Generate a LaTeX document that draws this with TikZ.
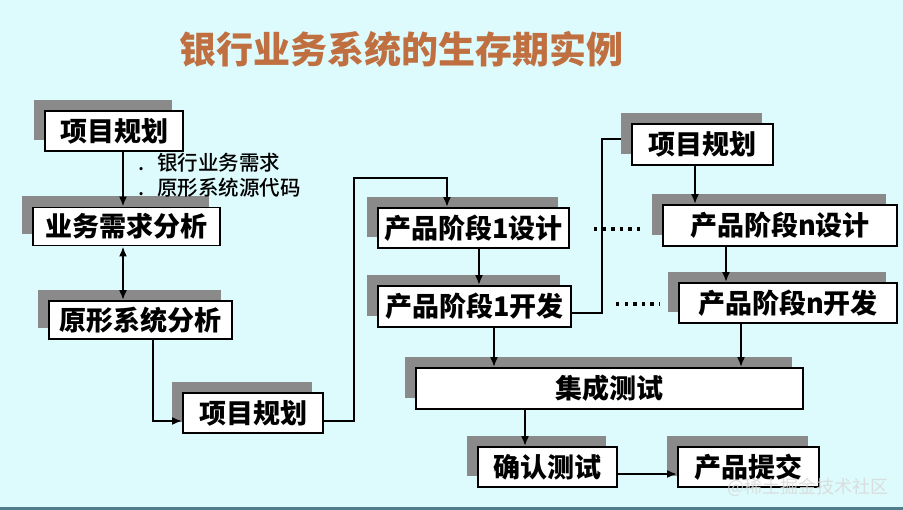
\documentclass[tikz,border=0pt]{standalone}
\usepackage{fontspec}
\setmainfont{Noto Sans CJK SC}[BoldFont={Noto Sans CJK SC Black}]
\newfontfamily\medfont{Noto Sans CJK SC Medium}
\usetikzlibrary{arrows.meta,shadows}
\definecolor{bg}{RGB}{221,250,252}
\definecolor{strip}{RGB}{80,125,140}
\definecolor{shadowgray}{RGB}{138,138,138}
\definecolor{titlec}{RGB}{192,112,64}
\tikzset{
  box/.style={draw=black, fill=white, line width=1.8pt, inner sep=0pt,
    font=\bfseries\fontsize{27}{30}\selectfont,
    drop shadow={shadow xshift=-11pt, shadow yshift=11pt, fill=shadowgray, opacity=1}},
  conn/.style={line width=2pt, draw=black},
  arr/.style={conn, -{Latex[length=10pt,width=8pt]}},
  darr/.style={conn, {Latex[length=10pt,width=8pt]}-{Latex[length=10pt,width=8pt]}},
  dots/.style={line width=3.4pt, dash pattern=on 3.4pt off 5.2pt},
  lbl/.style={font=\medfont\fontsize{20.5}{22}\selectfont, anchor=west, inner sep=0pt}
}
\begin{document}
\begin{tikzpicture}[x=1pt, y=-1pt]
\useasboundingbox (0,0) rectangle (903,510);
\fill[bg] (0,0) rectangle (903,510);
\fill[strip] (0,507) rectangle (903,510);

% title
\node[text=titlec, font=\bfseries\fontsize{37}{40}\selectfont, inner sep=0pt] (title) at (401,49) {银行业务系统的生存期实例};

% x/y helper coordinates
\coordinate (xa) at (123,0);
\coordinate (xb) at (153,0);
\coordinate (xc) at (354,0);
\coordinate (xd) at (447,0);
\coordinate (xe) at (479,0);
\coordinate (xf) at (602,0);
\coordinate (xg) at (695,0);
\coordinate (xh) at (726,0);
\coordinate (xi) at (494,0);
\coordinate (xj) at (741,0);
\coordinate (xk) at (525,0);
\coordinate (ya) at (0,421);
\coordinate (yb) at (0,178);
\coordinate (yc) at (0,313);
\coordinate (yd) at (0,139);
\coordinate (ye) at (0,474);

% boxes
\node[box, minimum width=138pt, minimum height=40pt] (b1) at (114,131) {项目规划};
\node[box, minimum width=187pt, minimum height=38pt] (b2) at (126.5,226.5) {业务需求分析};
\node[box, minimum width=183pt, minimum height=38pt] (b3) at (140.5,320) {原形系统分析};
\node[box, minimum width=140pt, minimum height=40pt] (b4) at (253,413) {项目规划};
\node[box, minimum width=191pt, minimum height=40pt] (b5) at (473.5,228) {产品阶段1设计};
\node[box, minimum width=193pt, minimum height=41pt] (b6) at (474.5,306.5) {产品阶段1开发};
\node[box, minimum width=141pt, minimum height=41pt] (b7) at (702.5,144.5) {项目规划};
\node[box, minimum width=234pt, minimum height=41pt] (b8) at (780,225.5) {产品阶段n设计};
\node[box, minimum width=218pt, minimum height=40pt] (b9) at (788,303) {产品阶段n开发};
\node[box, minimum width=387pt, minimum height=41pt] (b10) at (609.5,388.5) {集成测试};
\node[box, minimum width=139pt, minimum height=40pt] (b11) at (547.5,467) {确认测试};
\node[box, minimum width=141pt, minimum height=40pt] (b12) at (748.5,467) {产品提交};

% labels
\node[lbl] (l1) at (138,163) {.\hspace{13pt}银行业务需求};
\node[lbl] (l2) at (138,188) {.\hspace{13pt}原形系统源代码};

% connectors
\draw[arr] (b1.south -| xa) -- (b2.north -| xa);
\draw[darr] (b2.south -| xa) -- (b3.north -| xa);
\draw[arr] (b3.south -| xb) -- (xb |- ya) -- (b4.west |- ya);
\draw[arr] (b4.east |- ya) -- (xc |- ya) -- (xc |- yb) -- (xd |- yb) -- (b5.north -| xd);
\draw[arr] (b5.south -| xe) -- (b6.north -| xe);
\draw[conn] (b6.east |- yc) -- (xf |- yc) -- (xf |- yd) -- ([xshift=-10pt]b7.west |- yd);
\draw[arr] (b7.south -| xg) -- (b8.north -| xg);
\draw[arr] (b8.south -| xh) -- (b9.north -| xh);
\draw[arr] (b6.south -| xi) -- (b10.north -| xi);
\draw[arr] (b9.south -| xj) -- (b10.north -| xj);
\draw[arr] (b10.south -| xk) -- (b11.north -| xk);
\draw[arr] (b11.east |- ye) -- (b12.west |- ye);

% dotted continuations
\coordinate (d1a) at (594,229);
\coordinate (d1b) at (645,229);
\coordinate (d2a) at (616,304);
\coordinate (d2b) at (660,304);
\draw[dots] (d1a) -- (d1b);
\draw[dots] (d2a) -- (d2b);

% watermark
\node[text=white!70!gray, opacity=0.85, font=\fontsize{18}{20}\selectfont, anchor=west, inner sep=0pt] (wm) at (727,487) {@稀土掘金技术社区};
\end{tikzpicture}
\end{document}
